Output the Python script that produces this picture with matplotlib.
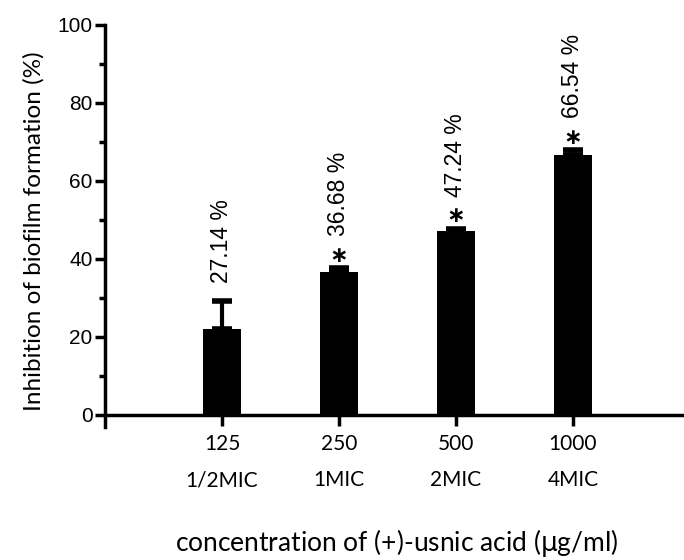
import matplotlib.pyplot as plt
import numpy as np
from matplotlib.ticker import MultipleLocator

# biofilm inhibition by (+)-usnic acid
doses = ['125', '250', '500', '1000']
mic_levels = ['1/2MIC', '1MIC', '2MIC', '4MIC']
mean_inhibition = [22.1, 36.68, 47.24, 66.54]
sd_upper = [7.0, 0.9, 0.5, 1.3]
label_values = [27.14, 36.68, 47.24, 66.54]
significant = [False, True, True, True]

num_font = 'Liberation Sans'
text_font = 'Lato'

fig = plt.figure(figsize=(6.84, 5.6), dpi=100)
ax = fig.add_axes([0.1535, 0.2346, 0.8465, 0.7208])

x = np.arange(1, len(doses) + 1)
ax.bar(x, mean_inhibition, width=0.33, color='black', zorder=2)
ax.errorbar(x, mean_inhibition, yerr=[np.zeros(len(x)), sd_upper], fmt='none',
            ecolor='black', elinewidth=3, capsize=7, capthick=4, zorder=3)

for xi, m, e, v, sig in zip(x, mean_inhibition, sd_upper, label_values, significant):
    top = m + e
    if sig:
        ax.annotate('\u2217', (xi, top), xytext=(0, 9), textcoords='offset points',
                    ha='center', va='center', fontsize=16, family='DejaVu Sans',
                    weight='bold')
        gap = 23
    else:
        gap = 13
    ax.annotate(f'{v:.2f} %', (xi, top), xytext=(0, gap), textcoords='offset points',
                rotation=90, ha='center', va='bottom', fontsize=16.5, family=num_font)

ax.set_xlim(0, 4.95)
ax.set_ylim(-3.5, 100)
ax.spines['bottom'].set_position(('data', 0))
ax.spines['left'].set_bounds(-3, 100)
for side in ['top', 'right']:
    ax.spines[side].set_visible(False)
for side in ['left', 'bottom']:
    ax.spines[side].set_linewidth(2.5)

ax.yaxis.set_major_locator(MultipleLocator(20))
ax.yaxis.set_minor_locator(MultipleLocator(10))
ax.tick_params(axis='y', which='major', length=7, width=2.5, labelsize=15, pad=2)
ax.tick_params(axis='y', which='minor', length=4, width=2.5)
for lab in ax.get_yticklabels():
    lab.set_family(num_font)

ax.set_xticks(x)
ax.set_xticklabels([f'{d}\n{m}' for d, m in zip(doses, mic_levels)],
                   fontsize=15, family=text_font, linespacing=2.0)
ax.tick_params(axis='x', length=8, width=2.5, pad=6)

ax.set_ylabel('Inhibition of biofilm formation (%)', fontsize=17.5, family=text_font)
ax.yaxis.set_label_coords(-0.104, 0.49)
ax.set_xlabel(r'concentration of (+)-usnic acid ($\mathrm{\mu}$g/ml)',
              fontsize=19, family=text_font)
ax.xaxis.set_label_coords(0.503, -0.243)

fig.savefig('out.png', dpi=100)
